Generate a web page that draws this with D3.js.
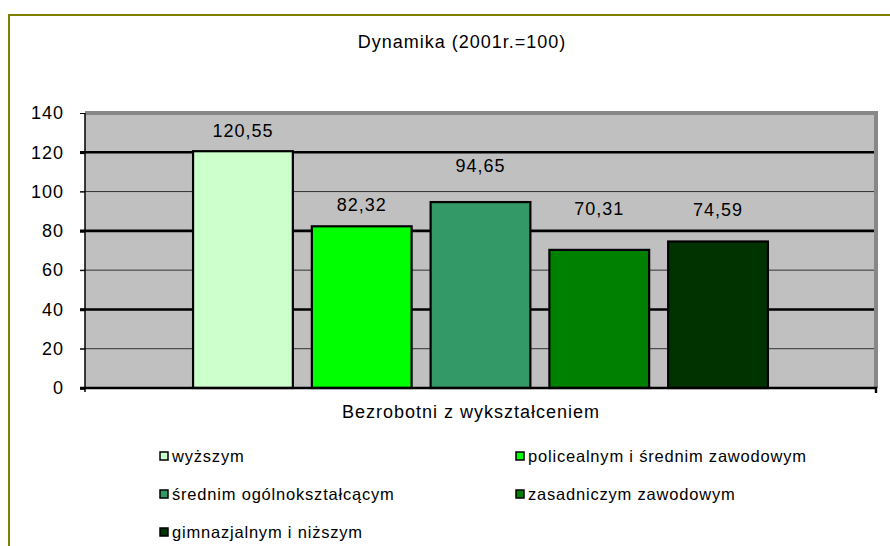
<!DOCTYPE html>
<html>
<head>
<meta charset="utf-8">
<script src="https://cdn.jsdelivr.net/npm/d3@7"></script>
<style>
  html, body { margin: 0; padding: 0; background: #fff; }
  svg { display: block; font-family: "Liberation Sans", Arial, sans-serif; }
  text { fill: #000; }
</style>
</head>
<body>
<svg id="chart" width="890" height="546"></svg>
<script>
/* Dynamika bezrobocia wg wykształcenia (2001r.=100) — jeden słupek na poziom wykształcenia. */

const series = [
  "wyższym",
  "policealnym i średnim zawodowym",
  "średnim ogólnokształcącym",
  "zasadniczym zawodowym",
  "gimnazjalnym i niższym",
];
const values = [120.55, 82.32, 94.65, 70.31, 74.59];
const colors = ["#ccffcc", "#00ff00", "#339966", "#008000", "#003300"];
const yTicks = [0, 20, 40, 60, 80, 100, 120, 140];
const title = "Dynamika (2001r.=100)";
const xTitle = "Bezrobotni z wykształceniem";

// label lift above each bar (px) — the source had hand-placed labels
const labelLift = [21, 22, 36, 41, 32];

const fmt = (v) => d3.format(".2f")(v).replace(".", ",");
const FS = 18, LS = "1px";

const svg = d3.select("#chart");
const plot = { left: 85, right: 876, top: 113, bottom: 388 };

// outer frame (olive), runs off the right and bottom edges
svg.append("rect")
  .attr("x", 9).attr("y", 15).attr("width", 1000).attr("height", 700)
  .attr("fill", "none").attr("stroke", "#808000").attr("stroke-width", 2);

svg.append("text")
  .attr("x", 462).attr("y", 48).attr("text-anchor", "middle")
  .attr("font-size", FS).attr("letter-spacing", LS)
  .text(title);

const y = d3.scaleLinear().domain([0, 140]).range([plot.bottom, plot.top]);
const x = d3.scaleBand().domain(series)
  .range([plot.left, plot.right]).paddingInner(0.16).paddingOuter(0.91);

// plot area
svg.append("rect")
  .attr("x", plot.left).attr("y", plot.top)
  .attr("width", plot.right - plot.left).attr("height", plot.bottom - plot.top)
  .attr("fill", "#c0c0c0");

// gridlines: every 40 heavy, the rest thin
const grid = svg.append("g");
yTicks.filter((t) => t > 0 && t < 140).forEach((t) => {
  const heavy = t % 40 === 0;
  grid.append("line")
    .attr("x1", plot.left - 5).attr("x2", plot.right - 2)
    .attr("y1", y(t)).attr("y2", y(t))
    .attr("stroke", heavy ? "#000" : "#333")
    .attr("stroke-width", heavy ? 2.6 : 1);
});

// gray top + right border of the plot
svg.append("path")
  .attr("d", `M${plot.left},${plot.top}H${plot.right}V${plot.bottom}`)
  .attr("fill", "none").attr("stroke", "#888").attr("stroke-width", 4);

// y axis
const yAxis = d3.axisLeft(y).tickValues(yTicks).tickSize(5).tickFormat(d3.format("d"));
const ya = svg.append("g").attr("transform", `translate(${plot.left},0)`).call(yAxis);
ya.select(".domain").attr("stroke", "#000").attr("stroke-width", 1.5)
  .attr("d", `M0,${plot.top}V${plot.bottom + 4}`);
ya.selectAll(".tick line").attr("stroke", "#000")
  .attr("stroke-width", (d) => (d % 40 === 0 && d < 140 ? 2.6 : 1));
ya.selectAll(".tick text")
  .attr("x", -21).attr("font-size", FS).attr("font-family", null)
  .attr("letter-spacing", LS).attr("fill", "#000");

// bars
svg.append("g").selectAll("rect")
  .data(values).join("rect")
  .attr("x", (d, i) => x(series[i]))
  .attr("y", (d) => y(d))
  .attr("width", x.bandwidth())
  .attr("height", (d) => y(0) - y(d))
  .attr("fill", (d, i) => colors[i])
  .attr("stroke", "#000").attr("stroke-width", 2.2);

// x axis line with end ticks
svg.append("path")
  .attr("d", `M${plot.left - 5},${plot.bottom}H${plot.right}V${plot.bottom + 5}`)
  .attr("fill", "none").attr("stroke", "#000").attr("stroke-width", 2.4);

// data labels
svg.append("g").selectAll("text")
  .data(values).join("text")
  .attr("x", (d, i) => x(series[i]) + x.bandwidth() / 2)
  .attr("y", (d, i) => y(d) - labelLift[i])
  .attr("dy", "0.35em").attr("text-anchor", "middle")
  .attr("font-size", FS).attr("letter-spacing", LS)
  .text(fmt);

svg.append("text")
  .attr("x", 471).attr("y", 418).attr("text-anchor", "middle")
  .attr("font-size", FS).attr("letter-spacing", LS)
  .text(xTitle);

// legend, two columns
const legend = svg.append("g").selectAll("g")
  .data(series).join("g")
  .attr("transform", (d, i) => `translate(${i % 2 ? 516 : 160},${456 + Math.floor(i / 2) * 38})`);
legend.append("rect")
  .attr("x", 0).attr("y", -4).attr("width", 8).attr("height", 8)
  .attr("fill", (d, i) => colors[i]).attr("stroke", "#000").attr("stroke-width", 1.5);
legend.append("text")
  .attr("x", 12).attr("dy", "0.35em")
  .attr("font-size", 16.5).attr("letter-spacing", "0.8px")
  .text((d) => d);
</script>
</body>
</html>
